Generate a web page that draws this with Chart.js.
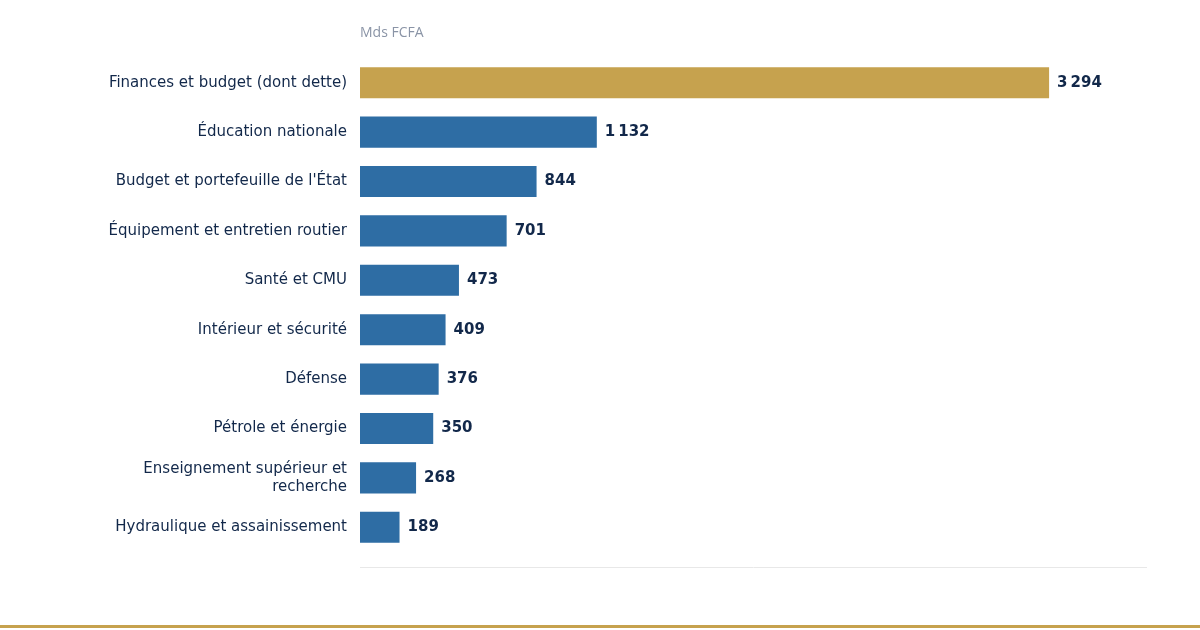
<!DOCTYPE html>
<html><head><meta charset="utf-8">
<script src="https://cdn.jsdelivr.net/npm/chart.js@4"></script>
<style>
html,body{margin:0;padding:0;background:#fff;width:1200px;height:630px;overflow:hidden;font-family:"DejaVu Sans",sans-serif}
#wrap{position:absolute;left:0;top:0;width:1200px;height:630px}
#unit{position:absolute;left:360px;top:22px;font-size:14px;color:#8a94a6;font-family:"Open Sans",sans-serif}
#rule{position:absolute;left:0;top:625px;width:1200px;height:3px;background:#c6a24e}
</style></head><body>
<div id="wrap"><canvas id="c" width="1200" height="630"></canvas></div>
<div id="unit">Mds FCFA</div>
<div id="rule"></div>
<script>
const categories=["Finances et budget (dont dette)","Éducation nationale","Budget et portefeuille de l'État","Équipement et entretien routier","Santé et CMU","Intérieur et sécurité","Défense","Pétrole et énergie",["Enseignement supérieur et","recherche"],"Hydraulique et assainissement"];
const values=[3294,1132,844,701,473,409,376,350,268,189];
const colors=values.map((v,i)=>i===0?"#c6a24e":"#2e6da4");
const fmt=v=>String(v).replace(/\B(?=(\d{3})+(?!\d))/g,"\u202f");
const plug={id:"extra",afterDatasetsDraw(ch){
 const c=ch.ctx,m=ch.getDatasetMeta(0),a=ch.chartArea;
 c.save();c.font="bold 15px 'DejaVu Sans'";c.fillStyle="#12284a";c.textBaseline="middle";c.textAlign="left";
 m.data.forEach((b,i)=>c.fillText(fmt(values[i]),b.x+8,b.y));
 c.strokeStyle="#e8e8e8";c.lineWidth=1;c.beginPath();c.moveTo(a.left,a.bottom+15.5);c.lineTo(a.right,a.bottom+15.5);c.stroke();
 c.restore();}};
new Chart(document.getElementById("c"),{type:"bar",
data:{labels:categories,datasets:[{data:values,backgroundColor:colors,barPercentage:0.63,categoryPercentage:1}]},
options:{indexAxis:"y",responsive:false,animation:false,
layout:{padding:{top:58,right:53,bottom:78,left:0}},
plugins:{legend:{display:false},tooltip:{enabled:false}},
scales:{x:{display:false,min:0,max:3762},
y:{afterFit(s){s.width=360;},grid:{display:false},border:{display:false},
ticks:{padding:5,color:"#12284a",font:{size:15,family:"DejaVu Sans"}}}}},
plugins:[plug]});
</script></body></html>
